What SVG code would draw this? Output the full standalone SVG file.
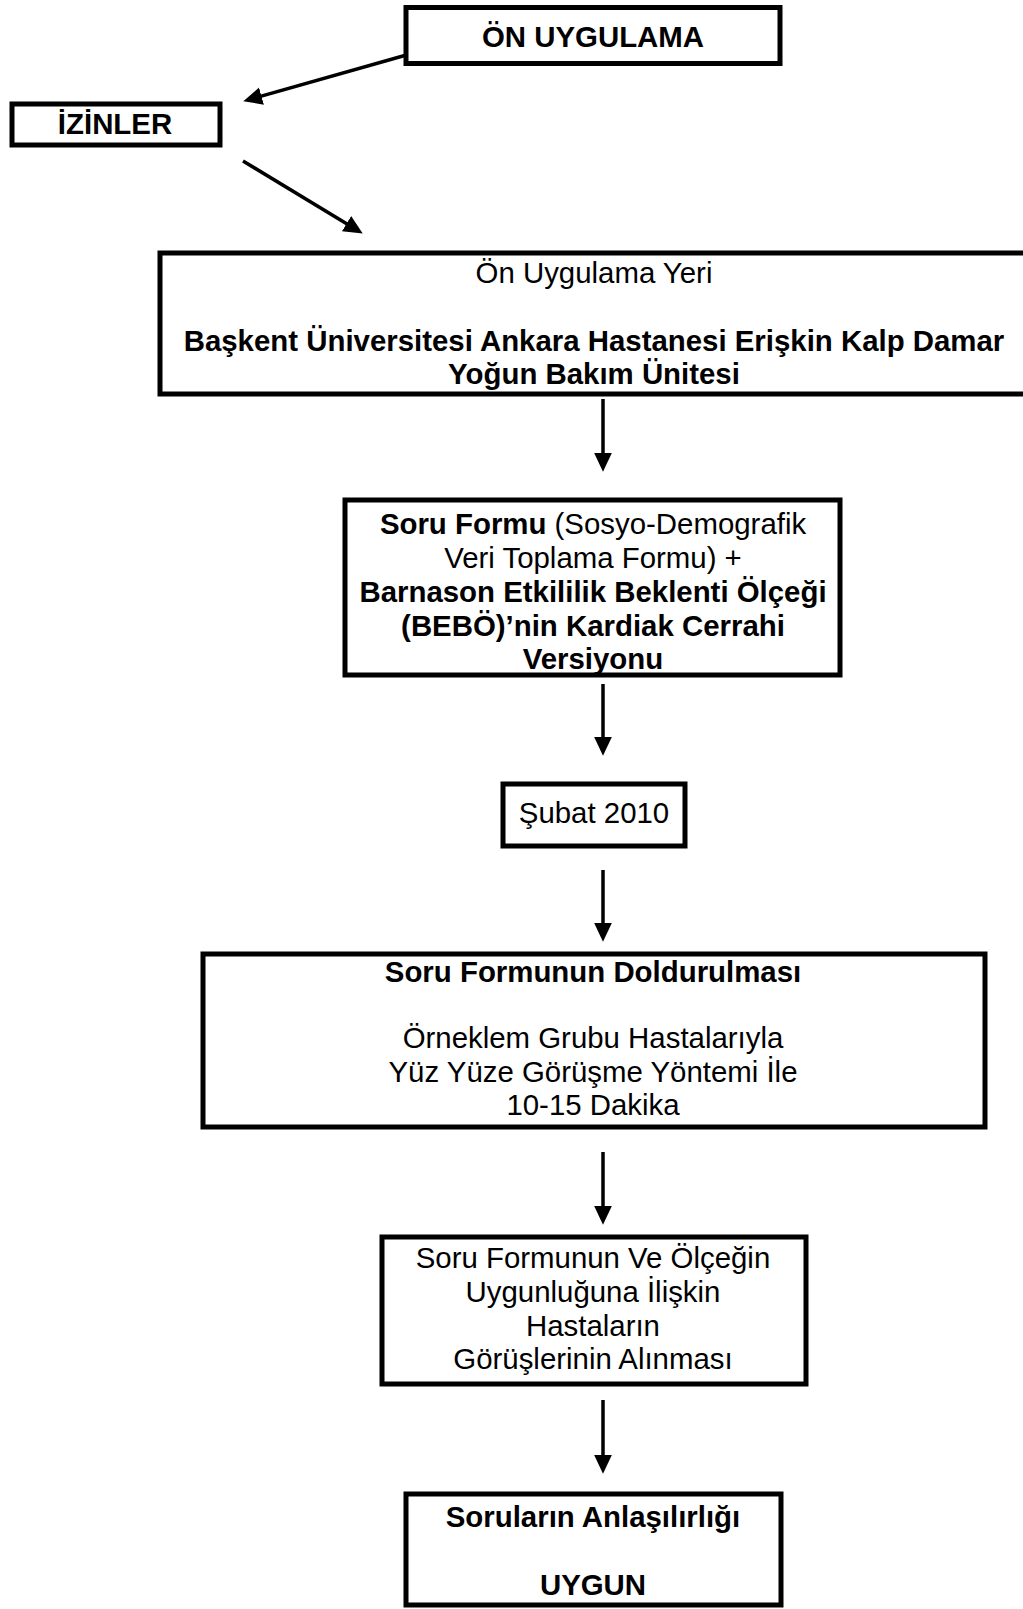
<svg xmlns="http://www.w3.org/2000/svg" width="1023" height="1609" viewBox="0 0 1023 1609">
<style>
.box{fill:#fff;stroke:#000;stroke-width:5}
.t{font-family:"Liberation Sans",Arial,sans-serif;font-size:29.4px;fill:#000;text-anchor:middle}
.b{font-weight:bold}
.c{stroke:#000;stroke-width:3.5;fill:none}
</style>
<defs>
<marker id="ah" markerUnits="userSpaceOnUse" markerWidth="20" markerHeight="20" viewBox="0 -9 18 18" refX="1" refY="0" orient="auto">
<path d="M0,-8 L17,0 L0,8 z" fill="#000"/>
</marker>
</defs>
<rect width="1023" height="1609" fill="#fff"/>
<g id="connectors">
<line class="c" x1="410" y1="54" x2="260.4" y2="96.4" marker-end="url(#ah)"/>
<line class="c" x1="243" y1="161" x2="347.5" y2="224.2" marker-end="url(#ah)"/>
<line class="c" x1="603" y1="399" x2="603" y2="454" marker-end="url(#ah)"/>
<line class="c" x1="603" y1="684" x2="603" y2="738" marker-end="url(#ah)"/>
<line class="c" x1="603" y1="870" x2="603" y2="924" marker-end="url(#ah)"/>
<line class="c" x1="603" y1="1152" x2="603" y2="1207" marker-end="url(#ah)"/>
<line class="c" x1="603" y1="1400" x2="603" y2="1456" marker-end="url(#ah)"/>
</g>
<g id="on-uygulama">
<rect class="box" x="406" y="7.5" width="374" height="56"/>
<text class="t b" x="593" y="47">ÖN UYGULAMA</text>
</g>
<g id="izinler">
<rect class="box" x="12" y="104" width="208" height="41"/>
<text class="t b" x="115" y="134">İZİNLER</text>
</g>
<g id="uygulama-yeri">
<rect class="box" x="160" y="253" width="880" height="141"/>
<text class="t" x="594" y="283">Ön Uygulama Yeri</text>
<text class="t b" x="594" y="351">Başkent Üniversitesi Ankara Hastanesi Erişkin Kalp Damar</text>
<text class="t b" x="594" y="384">Yoğun Bakım Ünitesi</text>
</g>
<g id="soru-formu">
<rect class="box" x="345" y="500" width="495" height="175"/>
<text class="t" x="593" y="534"><tspan class="b">Soru Formu</tspan> (Sosyo-Demografik</text>
<text class="t" x="593" y="568">Veri Toplama Formu) +</text>
<text class="t b" x="593" y="602">Barnason Etkililik Beklenti Ölçeği</text>
<text class="t b" x="593" y="636">(BEBÖ)’nin Kardiak Cerrahi</text>
<text class="t b" x="593" y="669">Versiyonu</text>
</g>
<g id="subat">
<rect class="box" x="503" y="784" width="182" height="62"/>
<text class="t" x="594" y="823">Şubat 2010</text>
</g>
<g id="doldurulmasi">
<rect class="box" x="203" y="954" width="782" height="173"/>
<text class="t b" x="593" y="982">Soru Formunun Doldurulması</text>
<text class="t" x="593" y="1048">Örneklem Grubu Hastalarıyla</text>
<text class="t" x="593" y="1082">Yüz Yüze Görüşme Yöntemi İle</text>
<text class="t" x="593" y="1115">10-15 Dakika</text>
</g>
<g id="gorusler">
<rect class="box" x="382" y="1237" width="424" height="147"/>
<text class="t" x="593" y="1268">Soru Formunun Ve Ölçeğin</text>
<text class="t" x="593" y="1302">Uygunluğuna İlişkin</text>
<text class="t" x="593" y="1336">Hastaların</text>
<text class="t" x="593" y="1369">Görüşlerinin Alınması</text>
</g>
<g id="anlasilirlik">
<rect class="box" x="406" y="1494" width="375" height="111"/>
<text class="t b" x="593" y="1527">Soruların Anlaşılırlığı</text>
<text class="t b" x="593" y="1595">UYGUN</text>
</g>
</svg>
